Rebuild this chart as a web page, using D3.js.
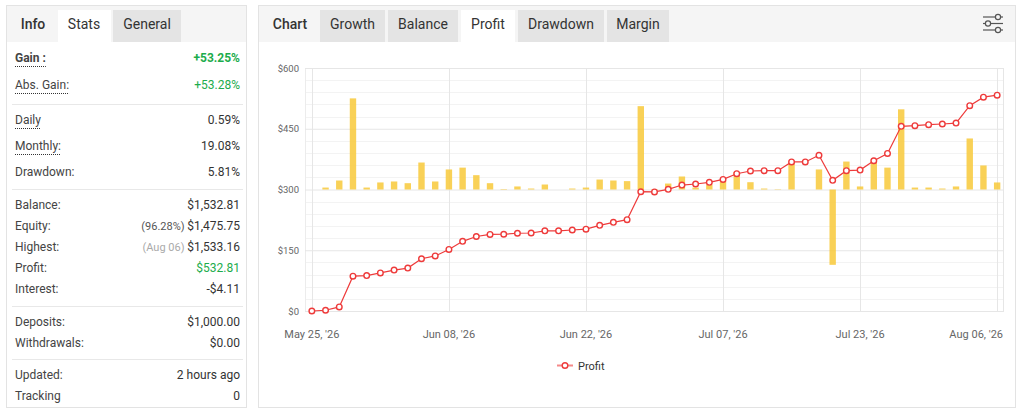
<!DOCTYPE html>
<html><head><meta charset="utf-8">
<script src="https://cdn.jsdelivr.net/npm/d3@7"></script>
<style>
html,body{margin:0;padding:0;background:#fff;}
svg{display:block;font-family:Roboto,"Open Sans",sans-serif;}
</style></head>
<body>
<svg id="c" width="1025" height="417"></svg>
<script>
// ---------- data ----------
const dates = ["May 25, '26","May 26, '26","May 27, '26","May 28, '26","May 29, '26",
"Jun 01, '26","Jun 02, '26","Jun 03, '26","Jun 04, '26","Jun 05, '26",
"Jun 08, '26","Jun 09, '26","Jun 10, '26","Jun 11, '26","Jun 12, '26",
"Jun 15, '26","Jun 16, '26","Jun 17, '26","Jun 18, '26","Jun 19, '26",
"Jun 22, '26","Jun 23, '26","Jun 24, '26","Jun 25, '26","Jun 26, '26",
"Jun 29, '26","Jun 30, '26","Jul 01, '26","Jul 02, '26","Jul 06, '26",
"Jul 07, '26","Jul 08, '26","Jul 09, '26","Jul 10, '26","Jul 13, '26",
"Jul 14, '26","Jul 15, '26","Jul 16, '26","Jul 17, '26","Jul 20, '26",
"Jul 23, '26","Jul 24, '26","Jul 27, '26","Jul 28, '26","Jul 29, '26",
"Jul 30, '26","Jul 31, '26","Aug 03, '26","Aug 04, '26","Aug 05, '26","Aug 06, '26"];
const cumulativeProfit = [0,1.8,10,86,87.5,94,101,106,129,136,
152,172,184,189,189.5,192,192.6,198,198,200,
202,211.5,219,225.5,294.5,294,300.4,311,313.6,317.7,
325,339,345.7,346.5,346.5,368,368,384.4,322.6,346.5,
348,371,389,456,457.6,460,461.7,464,507,528,532.81];
const dailyProfit = [0,1.6,7.4,75,1.6,5.8,6.6,5.2,22.2,6.6,
16.5,18,11.8,5.2,0.4,2.5,0.8,4.1,0,0.8,
1.6,8.2,7.4,6.9,68.6,0.4,4.9,10.7,1.6,4.1,
6.9,14.3,6,0.8,0.3,22,0,16.5,-62,23,
2.5,23,18,66,1.6,1.6,0.8,2.5,42,19.8,5.8];
const yTicks = [0,150,300,450,600];
const xLabelDates = ["May 25, '26","Jun 08, '26","Jun 22, '26","Jul 07, '26","Jul 23, '26","Aug 06, '26"];
const seriesName = "Profit";

const leftTabs = ["Info","Stats","General"];
const rightTabs = ["Chart","Growth","Balance","Profit","Drawdown","Margin"];
const statGroups = [
  [["Gain :","+53.25%"],["Abs. Gain:","+53.28%"]],
  [["Daily","0.59%"],["Monthly:","19.08%"],["Drawdown:","5.81%"]],
  [["Balance:","$1,532.81"],["Equity:","$1,475.75"],["Highest:","$1,533.16"],["Profit:","$532.81"],["Interest:","-$4.11"]],
  [["Deposits:","$1,000.00"],["Withdrawals:","$0.00"]],
  [["Updated:","2 hours ago"],["Tracking","0"]]
];
const statPrefix = {"Equity:":"(96.28%) ","Highest:":"(Aug 06) "};

// ---------- drawing ----------
const svg = d3.select("#c");
const border = "#e3e3e3";

// Left panel
const L = svg.append("g");
L.append("rect").attr("x",6.5).attr("y",5.5).attr("width",240).attr("height",402).attr("fill","#fff").attr("stroke",border);
L.append("rect").attr("x",7).attr("y",6).attr("width",239).attr("height",36).attr("fill","#f5f5f5");
L.append("rect").attr("x",58).attr("y",10).attr("width",53).attr("height",32).attr("fill","#fff");
L.append("rect").attr("x",113).attr("y",10).attr("width",68).attr("height",32).attr("fill","#e4e4e4");
const ltx = [[33,"500"],[84,"400"],[147,"400"]];
leftTabs.forEach((t,i)=>{
  L.append("text").attr("x",ltx[i][0]).attr("y",29).attr("text-anchor","middle")
   .attr("font-size",14).attr("font-weight",ltx[i][1]).attr("fill","#333").text(t);
});
const rowY = [[58,85],[120,146,172],[205,226,247,268,289],[322,343],[375,396]];
const sepY = [104.5,189.5,306.5,359.5];
const dotted = {"Gain :":1,"Abs. Gain:":1,"Daily":1,"Monthly:":1};
statGroups.forEach((g,gi)=>{
  g.forEach((r,ri)=>{
    const y = rowY[gi][ri];
    const bold = r[0]==="Gain :";
    const lt = L.append("text").attr("x",15).attr("y",y+4).attr("font-size",12)
      .attr("font-weight",bold?"700":"400").attr("fill","#444").text(r[0]);
    if(dotted[r[0]]){
      const w = lt.node().getComputedTextLength();
      L.append("line").attr("x1",15).attr("x2",15+w).attr("y1",y+8.5).attr("y2",y+8.5)
        .attr("stroke","#333").attr("stroke-width",1).attr("stroke-dasharray","1,1");
    }
    let col = "#333";
    if(r[1].startsWith("+")||r[0]==="Profit:") col = "#1cac4c";
    const vt = L.append("text").attr("x",240).attr("y",y+4).attr("text-anchor","end").attr("font-size",12)
      .attr("font-weight",bold?"700":"400").attr("fill",col);
    if(statPrefix[r[0]]){
      vt.append("tspan").attr("fill",r[0]==="Highest:"?"#aaa":"#555").attr("font-size",11).text(statPrefix[r[0]]);
    }
    vt.append("tspan").text(r[1]);
  });
});
sepY.forEach(y=>L.append("line").attr("x1",12).attr("x2",243).attr("y1",y).attr("y2",y).attr("stroke","#e8e8e8"));

// Right panel
const R = svg.append("g");
R.append("rect").attr("x",258.5).attr("y",5.5).attr("width",757).attr("height",402).attr("fill","#fff").attr("stroke",border);
R.append("rect").attr("x",259).attr("y",6).attr("width",756).attr("height",36).attr("fill","#f5f5f5");
const rtBox = [null,[320,65],[388,70],[461,54],[518,86],[607,62]];
rightTabs.forEach((t,i)=>{
  let cx = 290;
  if(rtBox[i]){
    R.append("rect").attr("x",rtBox[i][0]).attr("y",10).attr("width",rtBox[i][1]).attr("height",32)
      .attr("fill",t==="Profit"?"#fff":"#e4e4e4");
    cx = rtBox[i][0]+rtBox[i][1]/2;
  }
  R.append("text").attr("x",cx).attr("y",29).attr("text-anchor","middle").attr("font-size",14)
    .attr("font-weight",i===0?"500":"400").attr("fill","#333").text(t);
});
// settings icon
const ic = R.append("g").attr("stroke","#555").attr("stroke-width",1.2).attr("fill","#f5f5f5");
[[17,998],[23.5,988],[30,998]].forEach(([y,cx])=>{
  ic.append("line").attr("x1",983).attr("x2",1003).attr("y1",y).attr("y2",y);
  ic.append("circle").attr("cx",cx).attr("cy",y).attr("r",2.6);
});

// Chart
const x = d3.scaleBand().domain(dates).range([305,1004]).paddingInner(0).paddingOuter(0);
const cx = d => x(d)+x.bandwidth()/2;
const y = d3.scaleLinear().domain([0,600]).range([311,68]);
const yBar = d3.scaleLinear().domain([-100,100]).range([311,68]);

const G = svg.append("g");
// minor grid
d3.range(0,601,30).filter(v=>v%150!==0).forEach(v=>{
  G.append("line").attr("x1",305).attr("x2",1004).attr("y1",Math.round(y(v))+0.5).attr("y2",Math.round(y(v))+0.5)
   .attr("stroke","#f3f3f3");
});
// vertical grid
xLabelDates.forEach(d=>{
  G.append("line").attr("x1",Math.round(cx(d))+0.5).attr("x2",Math.round(cx(d))+0.5).attr("y1",68).attr("y2",311).attr("stroke","#e6e6e6");
});
G.append("line").attr("x1",305.5).attr("x2",305.5).attr("y1",68).attr("y2",311).attr("stroke","#ececec");
G.append("line").attr("x1",1003.5).attr("x2",1003.5).attr("y1",68).attr("y2",311).attr("stroke","#e6e6e6");
// y axis (major grid + labels)
const yAxis = d3.axisLeft(y).tickValues(yTicks).tickSize(-(1004-305)).tickFormat(d=>"$"+d);
const ya = G.append("g").attr("transform","translate(305,0)").call(yAxis);
ya.select(".domain").remove();
ya.selectAll(".tick line").attr("stroke","#e6e6e6");
ya.selectAll(".tick text").attr("x",-6).attr("font-size",9.5).attr("fill","#666").attr("font-family","Roboto,sans-serif");

// bars
G.append("g").selectAll("rect").data(dates).join("rect")
  .attr("x",(d)=>cx(d)-3.2).attr("width",6.4)
  .attr("y",(d,i)=>Math.min(yBar(dailyProfit[i]),yBar(0)))
  .attr("height",(d,i)=>Math.abs(yBar(dailyProfit[i])-yBar(0)))
  .attr("fill","#f8c93a").attr("fill-opacity",0.85);

// line
const line = d3.line().x(d=>cx(d)).y((d,i)=>y(cumulativeProfit[i]));
G.append("path").datum(dates).attr("d",line).attr("fill","none").attr("stroke","#ee3b3b").attr("stroke-width",1.2);
G.append("g").selectAll("circle").data(dates).join("circle")
  .attr("cx",d=>cx(d)).attr("cy",(d,i)=>y(cumulativeProfit[i])).attr("r",2.8)
  .attr("fill","#fff").attr("stroke","#ee3b3b").attr("stroke-width",1.4);

// x axis labels
const xAxis = d3.axisBottom(x).tickValues(xLabelDates).tickSize(0).tickPadding(0);
const xa = G.append("g").attr("transform","translate(0,338)").call(xAxis);
xa.select(".domain").remove();
xa.selectAll(".tick text").attr("font-size",11).attr("fill","#666").attr("font-family","Roboto,sans-serif").attr("dy","0");
xa.selectAll(".tick").filter(d=>d===xLabelDates[xLabelDates.length-1]).select("text")
  .attr("text-anchor","end").attr("x",1003-cx(xLabelDates[xLabelDates.length-1]));

// legend
const lg = svg.append("g");
lg.append("line").attr("x1",557).attr("x2",573).attr("y1",365.5).attr("y2",365.5).attr("stroke","#ee3b3b").attr("stroke-opacity",0.6).attr("stroke-width",2);
lg.append("circle").attr("cx",565).attr("cy",365.5).attr("r",2.8).attr("fill","#fff").attr("stroke","#ee3b3b").attr("stroke-width",1.4);
lg.append("text").attr("x",578).attr("y",369.5).attr("font-size",11).attr("fill","#333").text(seriesName);
</script>
</body></html>
